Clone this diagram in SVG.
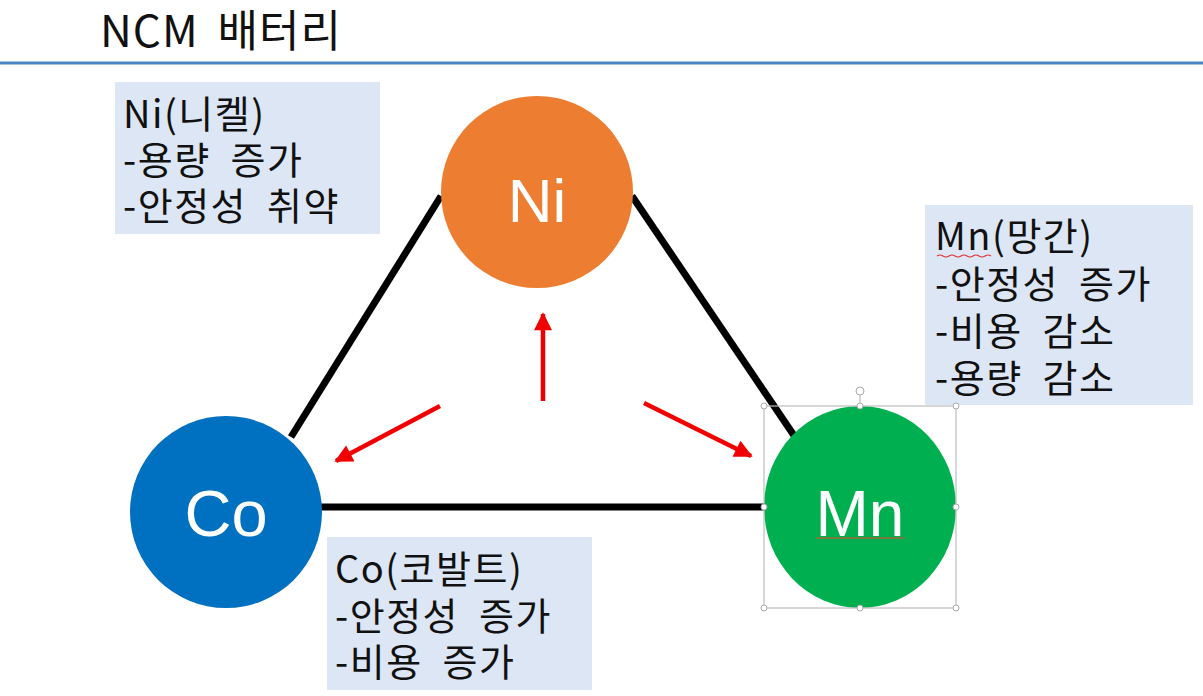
<svg xmlns="http://www.w3.org/2000/svg" width="1203" height="696" viewBox="0 0 1203 696">
<defs>
<style>
.t{font-family:"Noto Sans CJK KR","Noto Sans",sans-serif;fill:#111;}
.bt{font-size:38px;letter-spacing:1.5px;word-spacing:10px;}
.box{fill:#DCE6F4;}
.lbl{font-family:"Liberation Sans",Arial,sans-serif;fill:#fff;text-anchor:middle;}
.edge{stroke:#000;stroke-width:7;fill:none;}
.arr{stroke:#F00000;stroke-width:4.5;fill:none;marker-end:url(#ah);}
.sel{fill:none;stroke:#bdbdbd;stroke-width:1.2;}
.hd{fill:#fff;stroke:#aaa;stroke-width:1;}
</style>
<marker id="ah" viewBox="0 0 10 10" refX="9" refY="5" markerWidth="4.2" markerHeight="4" markerUnits="strokeWidth" orient="auto">
<path d="M0,0 L10,5 L0,10 z" fill="#F00000"/>
</marker>
</defs>
<rect width="1203" height="696" fill="#fff"/>
<g id="title">
<text class="t" x="100" y="47" font-size="44" letter-spacing="1" word-spacing="8">NCM 배터리</text>
<line x1="0" y1="63" x2="1203" y2="63" stroke="#4A86C5" stroke-width="3"/>
</g>
<g id="connectors">
<line class="edge" x1="441" y1="196" x2="291" y2="437"/>
<line class="edge" x1="632" y1="196" x2="795" y2="437"/>
<line class="edge" x1="320" y1="507" x2="765" y2="507"/>
<line class="arr" x1="543" y1="401" x2="543" y2="314"/>
<line class="arr" x1="440" y1="406" x2="336" y2="461"/>
<line class="arr" x1="644" y1="403" x2="751" y2="456"/>
</g>
<g id="ni-info">
<rect class="box" x="115" y="82" width="265" height="152"/>
<text class="t bt" x="123" y="128">Ni(니켈)</text>
<text class="t bt" x="123" y="174">-용량 증가</text>
<text class="t bt" x="123" y="220">-안정성 취약</text>
</g>
<g id="mn-info">
<rect class="box" x="925" y="205" width="268" height="200"/>
<text class="t bt" x="935" y="250">Mn(망간)</text>
<text class="t bt" x="935" y="298">-안정성 증가</text>
<text class="t bt" x="935" y="345">-비용 감소</text>
<text class="t bt" x="935" y="392">-용량 감소</text>
<path d="M937,256 q3,-2 6,0 t6,0 t6,0 t6,0 t6,0 t6,0 t6,0 t6,0 t6,0" fill="none" stroke="#e03030" stroke-width="1.2"/>
</g>
<g id="co-info">
<rect class="box" x="327" y="537" width="265" height="153"/>
<text class="t bt" x="335" y="583">Co(코발트)</text>
<text class="t bt" x="335" y="630">-안정성 증가</text>
<text class="t bt" x="335" y="676">-비용 증가</text>
</g>
<g id="ni">
<circle cx="537" cy="192" r="96" fill="#ED7D31"/>
<text class="lbl" x="537" y="222" font-size="62">Ni</text>
</g>
<g id="co">
<circle cx="226" cy="512" r="96" fill="#0070C0"/>
<text class="lbl" x="226" y="536" font-size="65">Co</text>
</g>
<g id="mn">
<ellipse cx="860" cy="507" rx="96" ry="101" fill="#00B050"/>
<text class="lbl" x="860" y="536" font-size="64">Mn</text>
<line x1="816" y1="538" x2="905" y2="538" stroke="#9a6a3a" stroke-width="1.5"/>
<rect class="sel" x="764" y="406" width="192" height="202"/>
<line class="sel" x1="860" y1="394" x2="860" y2="406"/>
<circle class="hd" cx="860" cy="391" r="4"/>
<circle class="hd" cx="764" cy="406" r="3"/><circle class="hd" cx="860" cy="406" r="3"/><circle class="hd" cx="956" cy="406" r="3"/>
<circle class="hd" cx="764" cy="507" r="3"/><circle class="hd" cx="956" cy="507" r="3"/>
<circle class="hd" cx="764" cy="608" r="3"/><circle class="hd" cx="860" cy="608" r="3"/><circle class="hd" cx="956" cy="608" r="3"/>
</g>
</svg>
